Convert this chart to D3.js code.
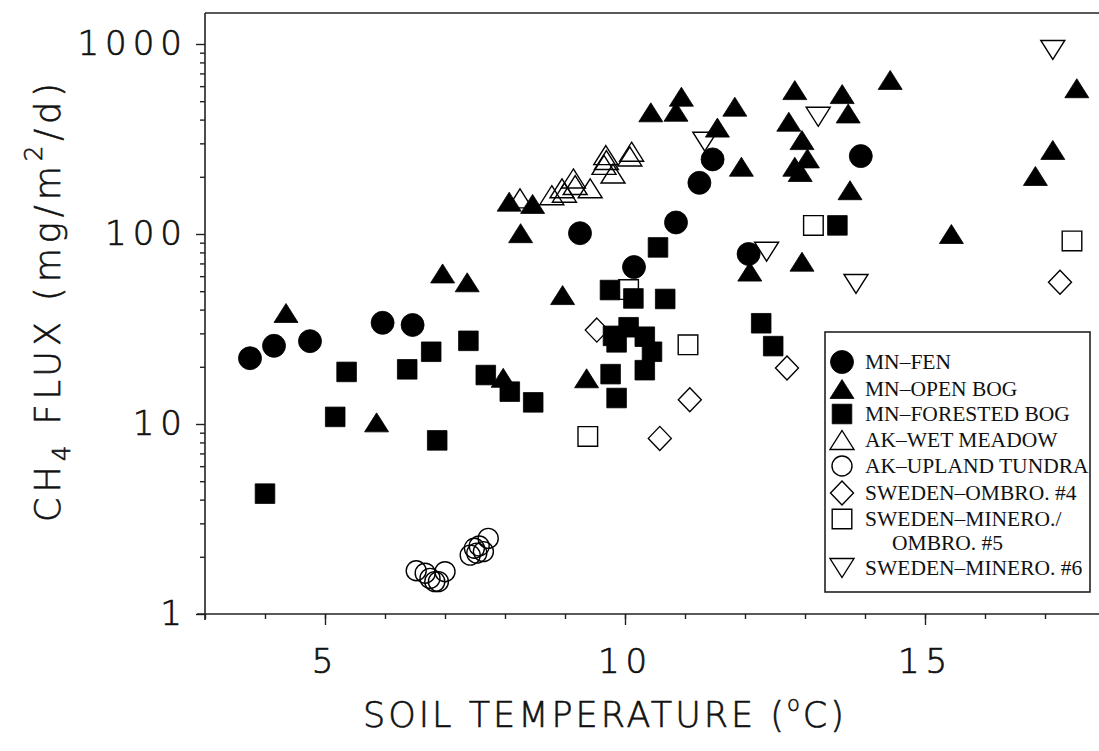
<!DOCTYPE html>
<html>
<head>
<meta charset="utf-8">
<script src="https://cdn.jsdelivr.net/npm/d3@7"></script>
<style>
body { margin: 0; background: #fff; }
svg text { fill: #111; }
.tlbl { font-family: "DejaVu Sans", sans-serif; font-weight: 200; font-size: 34px; letter-spacing: 6px; stroke: #111; stroke-width: 0.7px; }
.ttl { font-family: "DejaVu Sans", sans-serif; font-weight: 200; font-size: 35px; letter-spacing: 3px; stroke: #111; stroke-width: 0.6px; }
.leg { font-family: "Liberation Serif", serif; font-size: 21.5px; }
</style>
</head>
<body>
<div id="chart"></div>
<script>
// values: [soil temperature (C), CH4 flux (mg/m2/d)]
const mnFen = [[3.75,22.2],[4.15,25.8],[4.75,27.3],[5.96,34.1],[6.46,33.2],[9.25,101],[10.15,67],
  [10.85,115],[11.24,186],[11.46,247],[12.06,78.5],[13.93,257]];
const mnOpenBog = [[4.35,38.4],[5.86,10.2],[6.96,62],[7.37,55.7],[7.97,17.5],[8.07,148],[8.26,101],
  [8.46,144],[8.96,47.7],[9.36,17.4],[10.43,437],[10.85,440],[10.94,528],[11.54,363],[11.83,468],
  [11.94,226],[12.08,63.4],[12.73,390],[12.83,572],[12.83,226],[12.92,212],[12.95,312],[12.95,71.5],
  [13.04,250],[13.62,545],[13.72,431],[13.75,170],[14.42,647],[15.44,100],[16.84,202],[17.13,277],[17.53,585]];
const mnForestedBog = [[4.0,4.3],[5.17,10.9],[5.36,18.8],[6.37,19.4],[6.77,24.0],[6.87,8.2],[7.39,27.4],
  [7.68,18.1],[8.08,14.8],[8.47,13.0],[9.75,50.7],[9.76,18.3],[9.8,29.1],[9.86,26.9],[9.86,13.7],
  [10.06,32.3],[10.14,45.8],[10.33,28.8],[10.33,19.2],[10.45,24],[10.55,85],[10.67,45.5],
  [12.27,33.9],[12.47,25.7],[13.54,111]];
const akWetMeadow = [[8.25,154],[8.78,160],[8.95,174],[8.99,165],[9.14,196],[9.17,181],[9.42,174],
  [9.65,231],[9.68,260],[9.69,245],[9.8,208],[10.08,256],[10.11,271]];
const akUplandTundra = [[6.52,1.69],[6.67,1.64],[6.75,1.54],[6.83,1.48],[6.89,1.48],[7.0,1.67],
  [7.42,2.04],[7.49,2.22],[7.53,2.09],[7.57,2.28],[7.64,2.13],[7.72,2.5]];
const swedenOmbro4 = [[9.53,31.2],[10.58,8.4],[11.08,13.4],[12.7,19.7],[17.25,55.7]];
const swedenMineroOmbro5 = [[9.38,8.6],[10.06,51],[11.05,26.1],[13.14,111],[17.45,92]];
const swedenMinero6 = [[11.33,306],[12.36,80.7],[13.22,414],[13.85,54.6],[17.13,930]];

const legendLabels = [["MN–FEN"],["MN–OPEN BOG"],["MN–FORESTED BOG"],["AK–WET MEADOW"],
  ["AK–UPLAND TUNDRA"],["SWEDEN–OMBRO. #4"],["SWEDEN–MINERO./","OMBRO. #5"],["SWEDEN–MINERO. #6"]];
const xMajor = [5,10,15];
const xMinor = d3.range(3,19,1);
const yMajor = [1,10,100,1000];
const yMinor = [1,10,100].flatMap(d => d3.range(2,10).map(k => k*d));

const width = 1099, height = 751;
let x = d3.scaleLinear().domain([3,18]).range([205,1105]);
let y = d3.scaleLog().domain([1,1000]).range([614,44]);

let svg = d3.select("#chart").append("svg")
  .attr("width", width).attr("height", height);

// marker shapes, centred on the point
function shape(kind){
  switch(kind){
    case "circle": return "M11.5,0A11.5,11.5 0 1,1 -11.5,0A11.5,11.5 0 1,1 11.5,0Z";
    case "ocircle": return "M10,0A10,10 0 1,1 -10,0A10,10 0 1,1 10,0Z";
    case "tri": return "M0,-9.5L12,9.5L-12,9.5Z";
    case "itri": return "M0,9.5L12,-9.5L-12,-9.5Z";
    case "square": return "M-9.8,-9.8H9.8V9.8H-9.8Z";
    case "diamond": return "M0,-12L11.5,0L0,12L-11.5,0Z";
  }
}

let series = [
  {data: mnFen, kind: "circle", filled: true},
  {data: mnOpenBog, kind: "tri", filled: true},
  {data: mnForestedBog, kind: "square", filled: true},
  {data: akWetMeadow, kind: "tri", filled: false},
  {data: akUplandTundra, kind: "ocircle", filled: false},
  {data: swedenOmbro4, kind: "diamond", filled: false},
  {data: swedenMineroOmbro5, kind: "square", filled: false},
  {data: swedenMinero6, kind: "itri", filled: false}
];

// frame (top and left), right side runs off the picture
svg.append("line").attr("x1", x(3)).attr("x2", width).attr("y1", 13).attr("y2", 13)
  .attr("stroke", "#222").attr("stroke-width", 1.6);
svg.append("line").attr("x1", x(3)).attr("x2", x(3)).attr("y1", 13).attr("y2", 620)
  .attr("stroke", "#222").attr("stroke-width", 1.6);
svg.append("line").attr("x1", 197).attr("x2", width).attr("y1", y(1)).attr("y2", y(1))
  .attr("stroke", "#222").attr("stroke-width", 1.6);

// y axis
let gy = svg.append("g").attr("transform", `translate(${x(3)},0)`);
gy.call(d3.axisLeft(y).tickValues(yMinor).tickSize(5).tickFormat(""));
gy.append("g").call(d3.axisLeft(y).tickValues(yMajor).tickSize(9).tickPadding(8).tickFormat(d3.format("d")));
gy.selectAll(".domain").remove();
gy.selectAll("line").attr("stroke", "#222").attr("stroke-width", 1.4);
gy.selectAll("text").attr("class", "tlbl").attr("fill", "#111").attr("font-size", null).attr("font-family", null);

// x axis
let gx = svg.append("g").attr("transform", `translate(0,${y(1)})`);
gx.call(d3.axisBottom(x).tickValues(xMinor).tickSize(5).tickFormat(""));
gx.append("g").call(d3.axisBottom(x).tickValues(xMajor).tickSize(11).tickPadding(24).tickFormat(d3.format("d")));
gx.selectAll(".domain").remove();
gx.selectAll("line").attr("stroke", "#222").attr("stroke-width", 1.4);
gx.selectAll("text").attr("class", "tlbl").attr("fill", "#111").attr("font-size", null).attr("font-family", null);

// axis titles
let xt = svg.append("text").attr("class", "ttl").attr("x", 605).attr("y", 727).attr("text-anchor", "middle");
xt.append("tspan").text("SOIL TEMPERATURE (");
xt.append("tspan").attr("font-size", "60%").attr("dy", "-0.75em").text("o");
xt.append("tspan").attr("dy", "0.45em").text("C)");

let yt = svg.append("text").attr("class", "ttl").attr("text-anchor", "middle")
  .attr("transform", "translate(60,300) rotate(-90)").style("letter-spacing", "5px");
yt.append("tspan").text("CH");
yt.append("tspan").attr("font-size", "70%").attr("dy", "0.4em").text("4");
yt.append("tspan").attr("dy", "-0.28em").text(" FLUX (mg/m");
yt.append("tspan").attr("font-size", "70%").attr("dy", "-0.75em").text("2");
yt.append("tspan").attr("dy", "0.52em").text("/d)");

// points: open symbols underneath, filled ones on top
let order = series.filter(s => !s.filled).concat(series.filter(s => s.filled));
for (let s of order) {
  svg.append("g").selectAll("path").data(s.data).join("path")
    .attr("transform", d => `translate(${x(d[0])},${y(d[1])})`)
    .attr("d", shape(s.kind))
    .attr("fill", s.filled ? "#000" : "none")
    .attr("stroke", "#000")
    .attr("stroke-width", s.filled ? 0.8 : 1.4);
}

// legend
let lg = svg.append("g");
lg.append("rect").attr("x", 825).attr("y", 332).attr("width", 265).attr("height", 260)
  .attr("fill", "#fff").attr("stroke", "#222").attr("stroke-width", 1.6);
let rowY = [362, 389, 414, 440, 466, 493, 519, 568];
legendLabels.forEach((lab, i) => {
  let s = series[i];
  lg.append("path").attr("transform", `translate(842,${rowY[i]})`)
    .attr("d", shape(s.kind))
    .attr("fill", s.filled ? "#000" : "none").attr("stroke", "#000").attr("stroke-width", s.filled ? 0.8 : 1.4);
  lab.forEach((t, j) => {
    lg.append("text").attr("class", "leg").attr("x", j ? 892 : 865).attr("y", rowY[i] + 7 + j*24).text(t);
  });
});
</script>
</body>
</html>
